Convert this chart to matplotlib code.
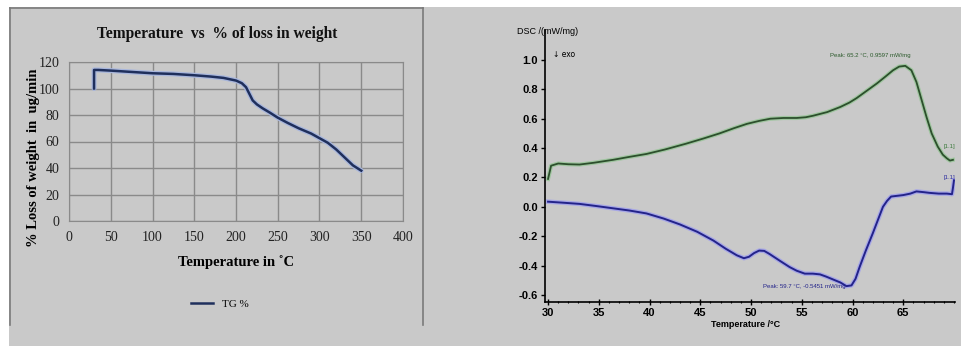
import numpy as np
import matplotlib.pyplot as plt
from matplotlib.patches import Rectangle
from matplotlib.lines import Line2D
from matplotlib.ticker import MultipleLocator

# TG данные (левый график)
tg_temp = [30, 30, 35, 50, 75, 100, 125, 150, 170, 185, 200, 207, 212, 216, 220, 225, 232, 240, 250, 262, 275, 290, 300, 310, 320, 330, 340, 350]
tg_loss = [100, 114, 114, 113.5, 112.5, 111.5, 111, 110, 109, 108, 106, 104, 101, 96, 91, 88, 85, 82, 78, 74, 70, 66, 62.5, 59, 54, 48, 42, 38]

# DSC данные (правый график)
dsc_t_green = [30.0, 30.3, 31.0, 32.0, 33.1, 34.5, 36.4, 38.0, 39.7, 41.5, 43.6, 45.3, 46.9, 48.3, 49.6, 50.8, 51.9, 53.2, 54.5, 55.4, 56.1, 57.5, 58.8, 59.7, 60.4, 61.4, 62.4, 63.3, 64.0, 64.6, 65.2, 65.8, 66.3, 66.8, 67.3, 67.8, 68.4, 68.9, 69.3, 69.6, 69.9]
dsc_v_green = [0.19, 0.28, 0.295, 0.29, 0.288, 0.30, 0.32, 0.34, 0.36, 0.39, 0.43, 0.465, 0.50, 0.535, 0.565, 0.585, 0.60, 0.605, 0.605, 0.61, 0.62, 0.645, 0.68, 0.71, 0.74, 0.79, 0.84, 0.89, 0.93, 0.955, 0.96, 0.93, 0.85, 0.73, 0.61, 0.50, 0.41, 0.355, 0.33, 0.315, 0.32]

dsc_t_blue = [30.0, 31.5, 33.1, 34.8, 36.4, 38.0, 39.7, 41.4, 43.0, 44.7, 46.3, 47.5, 48.6, 49.3, 49.8, 50.3, 50.8, 51.3, 51.8, 52.9, 53.8, 54.5, 55.3, 56.1, 56.8, 57.4, 58.1, 58.8, 59.4, 59.9, 60.3, 60.7, 61.3, 62.0, 62.5, 63.0, 63.4, 63.8, 64.4, 65.0, 65.7, 66.3, 67.0, 67.6, 68.5, 69.3, 69.8, 69.9, 70.0]
dsc_v_blue = [0.035, 0.028, 0.02, 0.005, -0.01, -0.025, -0.045, -0.08, -0.12, -0.17, -0.23, -0.285, -0.33, -0.35, -0.34, -0.315, -0.298, -0.30, -0.32, -0.37, -0.41, -0.435, -0.455, -0.455, -0.46, -0.475, -0.495, -0.515, -0.54, -0.535, -0.49, -0.41, -0.30, -0.18, -0.09, 0.0, 0.04, 0.07, 0.075, 0.08, 0.09, 0.105, 0.10, 0.095, 0.09, 0.09, 0.086, 0.13, 0.18]

bg = "#c9c9c9"
fig = plt.figure(figsize=(9.61, 3.46), dpi=100)
fig.patch.set_facecolor("white")
fig.add_artist(Rectangle((9 / 961, 0), 1, 1 - 7 / 346, transform=fig.transFigure,
                         facecolor=bg, edgecolor="none", zorder=-10))
# рамка левой панели
frame = "#7a7a7a"
fig.add_artist(Line2D([9.5 / 961, 9.5 / 961], [0.06, 1 - 8 / 346], transform=fig.transFigure, color=frame, lw=1.2))
fig.add_artist(Line2D([9.5 / 961, 423 / 961], [1 - 8 / 346, 1 - 8 / 346], transform=fig.transFigure, color=frame, lw=1.2))
fig.add_artist(Line2D([423 / 961, 423 / 961], [1 - 8 / 346, 1 - 325 / 346], transform=fig.transFigure, color=frame, lw=1.2))

# ---- Левый график ----
serif = "Liberation Serif"
ax1 = fig.add_axes([69 / 961, 1 - 221 / 346, 334 / 961, 159 / 346])
ax1.set_facecolor(bg)
ax1.plot(tg_temp, tg_loss, color="#a8b6dc", lw=3.6, solid_capstyle="round")
ax1.plot(tg_temp, tg_loss, color="#1f2f5c", lw=1.8, label="TG %")
ax1.set_xlim(0, 400)
ax1.set_ylim(0, 120)
ax1.set_xticks(range(0, 401, 50))
ax1.set_yticks(range(0, 121, 20))
ax1.grid(True, color="#8a8a8a", lw=1.0)
for s in ax1.spines.values():
    s.set_color("#8a8a8a")
ax1.tick_params(length=0, pad=7, labelsize=10, colors="#222222")
for lab in ax1.get_xticklabels() + ax1.get_yticklabels():
    lab.set_fontfamily(serif)
ax1.set_title("Temperature  vs  % of loss in weight", fontfamily=serif, fontweight="bold",
              fontsize=11.2, pad=17, color="#111111", x=(217 - 69) / 334)
ax1.set_xlabel("Temperature in ˚C", fontfamily=serif, fontweight="bold", fontsize=10.5, labelpad=8)
ax1.set_ylabel("% Loss of weight  in  ug/min", fontfamily=serif, fontweight="bold", fontsize=10.5)
ax1.yaxis.set_label_coords((40 - 69) / 334, 0.40)
ax1.legend(loc="center", bbox_to_anchor=(220 / 961, 1 - 304 / 346), bbox_transform=fig.transFigure,
           frameon=False, handlelength=2.0, prop={"family": serif, "size": 8})

# ---- Правый график ----
sans = "Liberation Sans"
ax2 = fig.add_axes([545 / 961, 1 - 302 / 346, 410 / 961, 272 / 346])
ax2.set_facecolor(bg)
ax2.plot(dsc_t_green, dsc_v_green, color="#9fc59f", lw=3.0)
ax2.plot(dsc_t_green, dsc_v_green, color="#2c4f2c", lw=1.3)
ax2.plot(dsc_t_blue, dsc_v_blue, color="#a6a6e6", lw=3.2)
ax2.plot(dsc_t_blue, dsc_v_blue, color="#23238a", lw=1.4)
ax2.set_xlim(29.7, 70.1)
ax2.set_ylim(-0.648, 1.204)
ax2.set_xticks(range(30, 70, 5))
ax2.xaxis.set_minor_locator(MultipleLocator(1))
ax2.set_yticks(np.arange(-0.6, 1.01, 0.2))
ax2.yaxis.set_major_formatter(plt.FuncFormatter(lambda v, p: f"{v:.1f}"))
ax2.spines["top"].set_visible(False)
ax2.spines["right"].set_visible(False)
ax2.spines["left"].set_linewidth(1.2)
ax2.spines["bottom"].set_linewidth(1.2)
ax2.tick_params(which="major", length=3, width=1, labelsize=8, pad=2)
ax2.tick_params(which="minor", length=2, width=0.8, direction="inout")
ax2.tick_params(axis="x", which="major", direction="inout", length=4)
for lab in ax2.get_xticklabels() + ax2.get_yticklabels():
    lab.set_fontfamily(sans)
    lab.set_fontweight("bold")
ax2.set_xlabel("Temperature /°C", fontfamily=sans, fontsize=6.5, fontweight="bold")
ax2.xaxis.set_label_coords(0.49, -0.065)
fig.text(517 / 961, 1 - 32 / 346, "DSC /(mW/mg)", fontfamily=sans, fontsize=6.5, va="center")
ax2.text(30.5, 1.04, "↓ exo", fontfamily=["DejaVu Sans"], fontsize=5.5, va="center")
ax2.annotate("Peak: 65.2 °C, 0.9597 mW/mg", xy=(65.2, 0.96), xytext=(61.8, 1.03),
             fontsize=4.3, color="#2c5a2c", fontfamily=sans, ha="center", va="center")
ax2.annotate("Peak: 59.7 °C, -0.5451 mW/mg", xy=(59.7, -0.545), xytext=(55.3, -0.54),
             fontsize=4.3, color="#23238a", fontfamily=sans, ha="center", va="center")
ax2.text(69.6, 0.40, "[1.1]", fontsize=4.3, color="#3c7a3c", fontfamily=sans, ha="center")
ax2.text(69.6, 0.19, "[1.1]", fontsize=4.3, color="#3030a0", fontfamily=sans, ha="center")

fig.savefig("out.png", dpi=100, facecolor=fig.get_facecolor())
